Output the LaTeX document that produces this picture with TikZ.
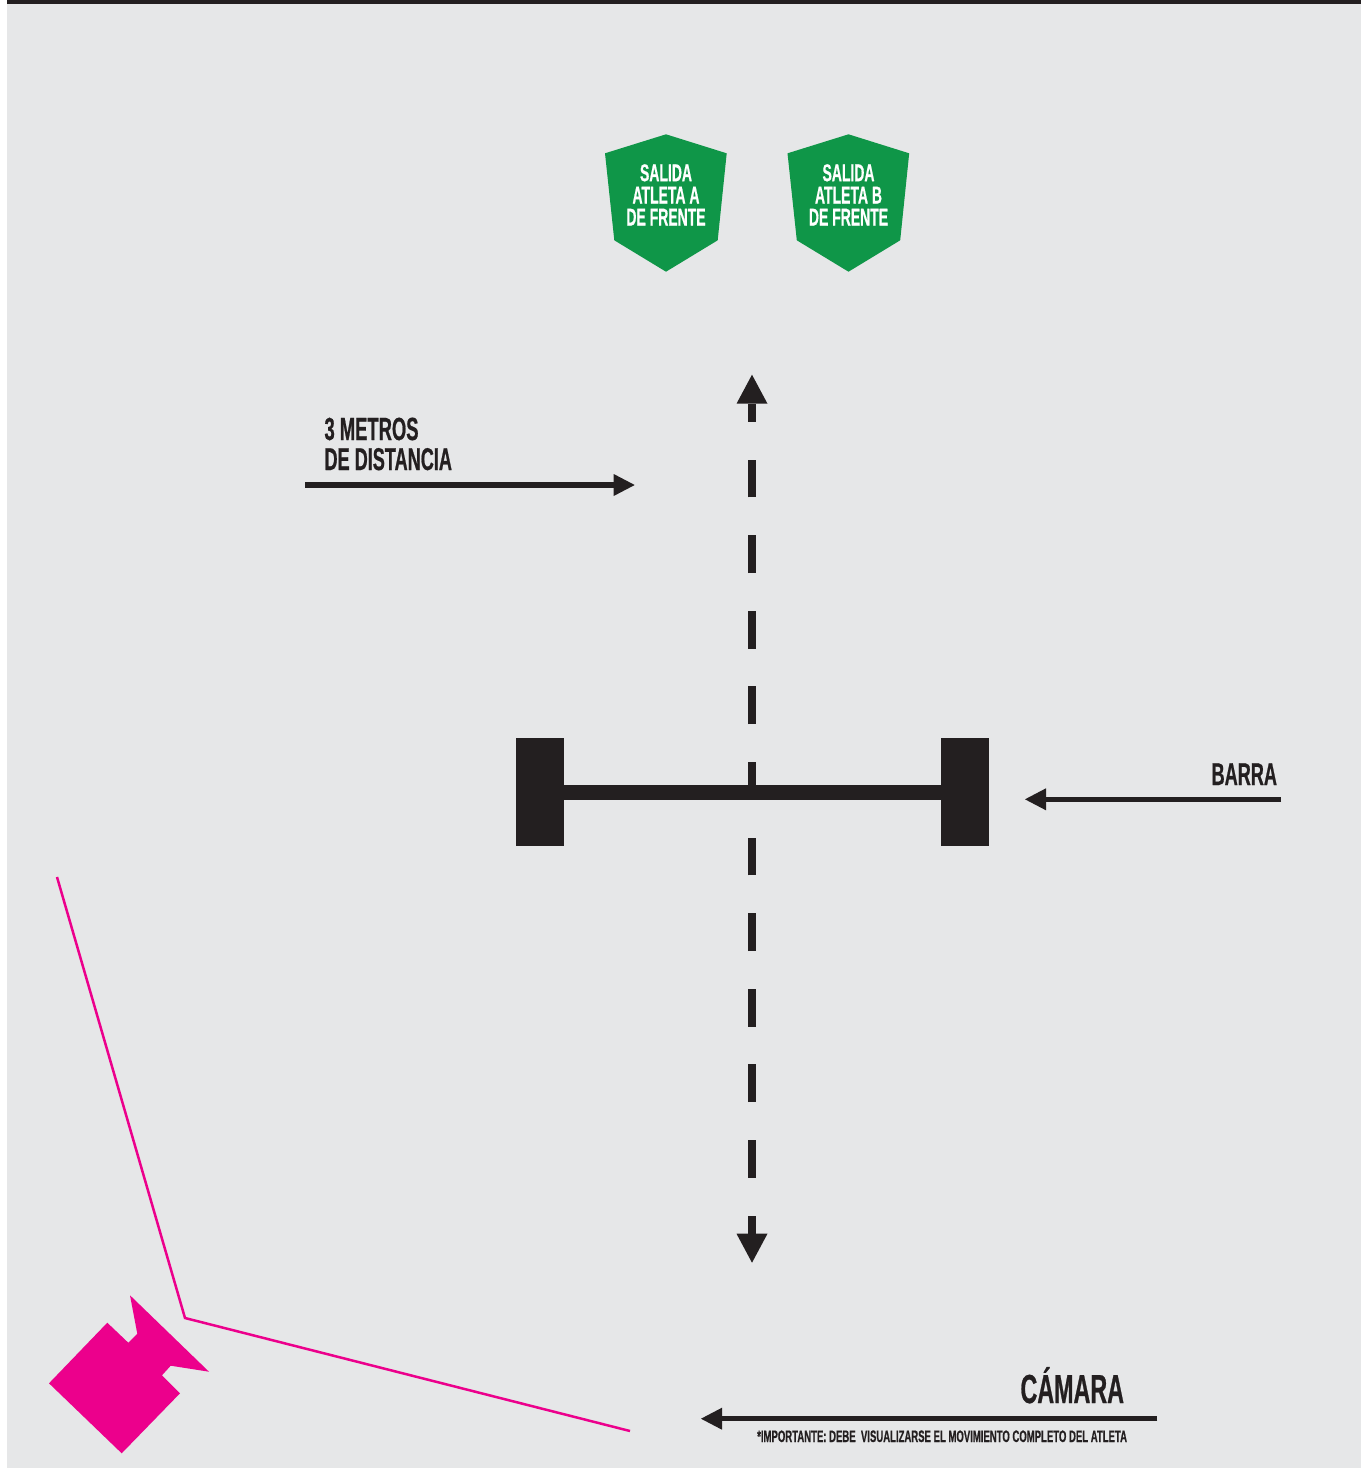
\documentclass[tikz,border=0pt]{standalone}
\usepackage{fontspec}
\usetikzlibrary{arrows.meta}
\newfontfamily\condfont[FakeStretch=0.575,FakeBold=0.6]{Liberation Sans Bold}
\definecolor{dark}{HTML}{231F20}
\definecolor{paper}{HTML}{E6E7E8}
\definecolor{leaf}{HTML}{0F9648}
\definecolor{magent}{HTML}{EC008C}
\newcommand{\fsz}[2]{\fontsize{#1}{#2}\selectfont}
\tikzset{
  lbl/.style={inner sep=0pt,outer sep=0pt,text=dark,anchor=base west},
  lblr/.style={inner sep=0pt,outer sep=0pt,text=dark,anchor=base east},
  shieldtxt/.style={inner sep=0pt,outer sep=0pt,text=white,align=center,anchor=base,font=\condfont\fsz{24.3}{22}},
  shield/.style={fill=leaf,draw=none},
  plate/.style={fill=dark,draw=none},
  ptr/.style={draw=dark,line width=5.2pt},
  headA/.style={-{Triangle[length=21pt,width=22pt,line width=0pt]}},
  dashline/.style={draw=dark,line width=8pt,dash pattern=on 37.8pt off 37.8pt,dash phase=19.7pt,
     {Triangle[length=29pt,width=31pt,line width=0pt]}-{Triangle[length=29pt,width=31pt,line width=0pt]}},
}
\begin{document}
\begin{tikzpicture}[x=1pt,y=-1pt]
\useasboundingbox (0,0) rectangle (1367,1468);
\fill[white] (0,0) rectangle (1367,1468);
\fill[paper] (7,4) rectangle (1361,1468);
\fill[dark] (7,0) rectangle (1361,4);
% shields
\fill[shield] (666,134.3)--(726.7,153.3)--(717.7,240.3)--(666,271.7)--(614.3,240.3)--(605,153.3)--cycle;
\fill[shield] (848.5,134.3)--(909.2,153.3)--(900.2,240.3)--(848.5,271.7)--(796.8,240.3)--(787.5,153.3)--cycle;
\node[shieldtxt] (shA1) at (666,181.2) {SALIDA};
\node[shieldtxt] (shA2) at (666,203.5) {ATLETA A};
\node[shieldtxt] (shA3) at (666,225.5) {DE FRENTE};
\node[shieldtxt] (shB1) at (848.5,181.2) {SALIDA};
\node[shieldtxt] (shB2) at (848.5,203.5) {ATLETA B};
\node[shieldtxt] (shB3) at (848.5,225.5) {DE FRENTE};
% vertical dashed
\coordinate (dtop) at (752,374.7);
\coordinate (dbot) at (752,1262.7);
\draw[dashline] (dbot) -- (dtop);
% barbell
\coordinate (barL) at (564,792.5);
\coordinate (barR) at (941,792.5);
\draw[draw=dark,line width=15pt] (barL) -- (barR);
\fill[plate] (516,738) rectangle (564,846);
\fill[plate] (941,738) rectangle (989,846);
% labels and pointers
\node[lbl,font=\condfont\fsz{32}{30}] (m1) at (324.5,440) {3 METROS};
\node[lbl,font=\condfont\fsz{31.5}{30}] (m2) at (324.5,470) {DE DISTANCIA};
\coordinate (a1s) at (305.3,485);
\coordinate (a1e) at (634.7,485);
\draw[ptr,headA] (a1s) -- (a1e);
\node[lblr,font=\condfont\fsz{31.5}{30}] (barra) at (1277,785) {BARRA};
\coordinate (a2s) at (1281,799.3);
\coordinate (a2e) at (1025,799.3);
\draw[ptr,headA] (a2s) -- (a2e);
\node[lblr,font=\condfont\fsz{40.5}{39}] (cam) at (1124,1403) {CÁMARA};
\coordinate (a3s) at (1157.3,1418.7);
\coordinate (a3e) at (701,1418.7);
\draw[ptr,headA] (a3s) -- (a3e);
\node[lblr,font=\condfont\fsz{16.6}{16}] (nota) at (1127,1442) {*IMPORTANTE: DEBE\ \ VISUALIZARSE EL MOVIMIENTO COMPLETO DEL ATLETA};
% camera
\fill[magent] (130,1295.3)--(209,1371.7)--(170.7,1365.7)--(162,1375.3)--(180,1393.3)--(121.7,1453.3)--(49,1383.3)--(107.3,1322.7)--(128.3,1342.7)--(137.3,1333.7)--cycle;
\coordinate (p1) at (57,877);
\coordinate (p2) at (185,1318);
\coordinate (p3) at (630,1431);
\draw[magent,line width=2.5pt,line join=miter] (p1) -- (p2) -- (p3);
\end{tikzpicture}
\end{document}
